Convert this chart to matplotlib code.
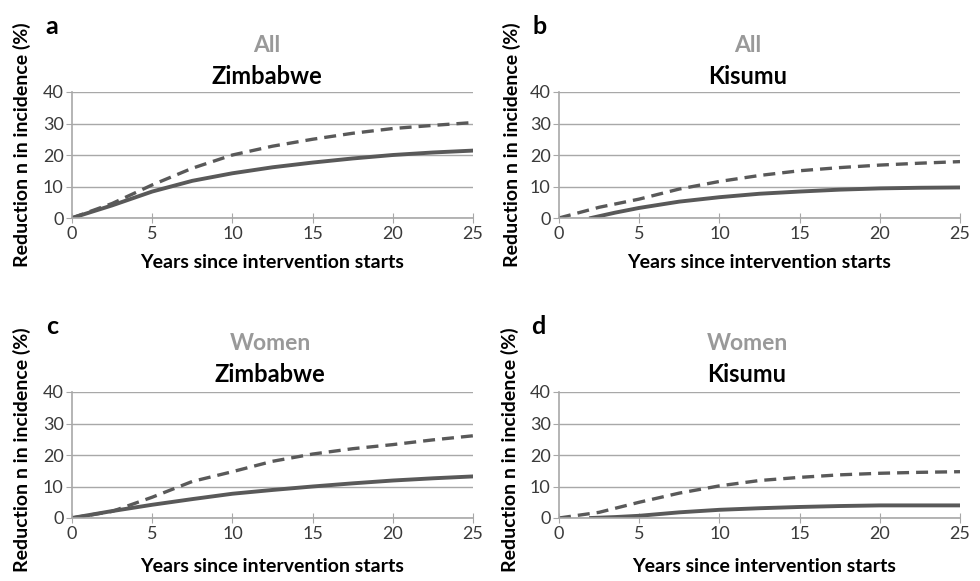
import matplotlib.pyplot as plt
import numpy as np

plt.rcParams["font.family"] = ["Lato", "DejaVu Sans"]

# years on the x axis
years = [0, 2.5, 5, 7.5, 10, 12.5, 15, 17.5, 20, 22.5, 25]

# a: All, Zimbabwe
zim_all_solid = [0, 4.0, 8.4, 11.8, 14.2, 16.1, 17.6, 18.9, 20.0, 20.8, 21.4]
zim_all_dash = [0, 4.6, 10.5, 15.8, 20.0, 22.8, 25.0, 26.9, 28.4, 29.4, 30.3]
# b: All, Kisumu (solid starts at year 2)
kis_all_years = [2, 3.5, 5, 7.5, 10, 12.5, 15, 17.5, 20, 22.5, 25]
kis_all_solid = [0, 1.7, 3.2, 5.2, 6.6, 7.7, 8.4, 9.0, 9.4, 9.6, 9.7]
kis_all_dash = [0, 3.4, 6.0, 9.2, 11.6, 13.5, 15.0, 16.0, 16.8, 17.4, 17.9]
# c: Women, Zimbabwe
zim_wom_solid = [0, 2.2, 4.2, 6.0, 7.7, 8.9, 10.0, 11.0, 11.9, 12.6, 13.2]
zim_wom_dash = [0, 2.1, 6.6, 11.6, 14.7, 18.0, 20.3, 22.0, 23.3, 24.8, 26.1]
# d: Women, Kisumu (solid starts at year 2)
kis_wom_years = [2, 3.5, 5, 7.5, 10, 12.5, 15, 17.5, 20, 22.5, 25]
kis_wom_solid = [0, 0.3, 0.7, 1.8, 2.6, 3.1, 3.5, 3.8, 4.0, 4.0, 4.0]
kis_wom_dash = [0, 1.8, 5.0, 7.9, 10.2, 11.9, 12.9, 13.7, 14.2, 14.5, 14.7]

panels = [
    ("a", "All", "Zimbabwe", years, zim_all_solid, zim_all_dash),
    ("b", "All", "Kisumu", kis_all_years, kis_all_solid, kis_all_dash),
    ("c", "Women", "Zimbabwe", years, zim_wom_solid, zim_wom_dash),
    ("d", "Women", "Kisumu", kis_wom_years, kis_wom_solid, kis_wom_dash),
]

W, H = 980, 581
fig = plt.figure(figsize=(W / 100, H / 100), dpi=100)

# pixel layout of each panel: axes box + text centres
layout = [
    dict(l=72, r=473, t=92, b=218, letter=(52, 27), grp=(267, 45), site=(267, 77), xl=(272, 263), yl=(22, 145)),
    dict(l=559, r=960, t=92, b=218, letter=(540, 26), grp=(748, 45), site=(748, 77), xl=(759, 263), yl=(512, 145)),
    dict(l=72, r=473, t=392, b=518, letter=(52, 326), grp=(270, 343), site=(270, 375), xl=(272, 566), yl=(22, 450)),
    dict(l=559, r=960, t=392, b=518, letter=(538, 326), grp=(747, 343), site=(747, 375), xl=(764, 566), yl=(510, 450)),
]

line_col = "#595959"
grid_col = "#a8a8a8"


def fx(px):
    return px / W


def fy(py):
    return 1 - py / H


for (letter, grp, site, xs, solid, dash), L in zip(panels, layout):
    ax = fig.add_axes([fx(L["l"]), fy(L["b"]), fx(L["r"] - L["l"]), (L["b"] - L["t"]) / H])
    ax.plot(xs, solid, color=line_col, lw=2.8)
    ax.plot(years, dash, color=line_col, lw=2.4, dashes=(3.6, 2.1))
    ax.set_xlim(0, 25)
    ax.set_ylim(0, 40)
    ax.set_xticks([0, 5, 10, 15, 20, 25])
    ax.set_yticks([0, 10, 20, 30, 40])
    ax.grid(axis="y", color=grid_col, lw=1)
    ax.set_axisbelow(True)
    for s in ["top", "right"]:
        ax.spines[s].set_visible(False)
    for s in ["left", "bottom"]:
        ax.spines[s].set_color(grid_col)
        ax.spines[s].set_linewidth(1.2)
    ax.tick_params(axis="x", direction="inout", length=7, color=grid_col, labelsize=13,
                   labelcolor="#3a3a3a", pad=2)
    ax.tick_params(axis="y", direction="out", length=4, color=grid_col, labelsize=13,
                   labelcolor="#3a3a3a", pad=2)

    fig.text(fx(L["letter"][0]), fy(L["letter"][1]), letter, fontsize=18, fontweight="bold",
             ha="center", va="center")
    fig.text(fx(L["grp"][0]), fy(L["grp"][1]), grp, fontsize=16.5, fontweight="bold",
             color="#999999", ha="center", va="center")
    fig.text(fx(L["site"][0]), fy(L["site"][1]), site, fontsize=17, fontweight="bold",
             ha="center", va="center")
    fig.text(fx(L["xl"][0]), fy(L["xl"][1]), "Years since intervention starts", fontsize=14,
             fontweight="bold", ha="center", va="center")
    fig.text(fx(L["yl"][0]), fy(L["yl"][1]), "Reduction n in incidence (%)", fontsize=14,
             fontweight="bold", rotation=90, ha="center", va="center")

fig.savefig("out.png", dpi=100)
